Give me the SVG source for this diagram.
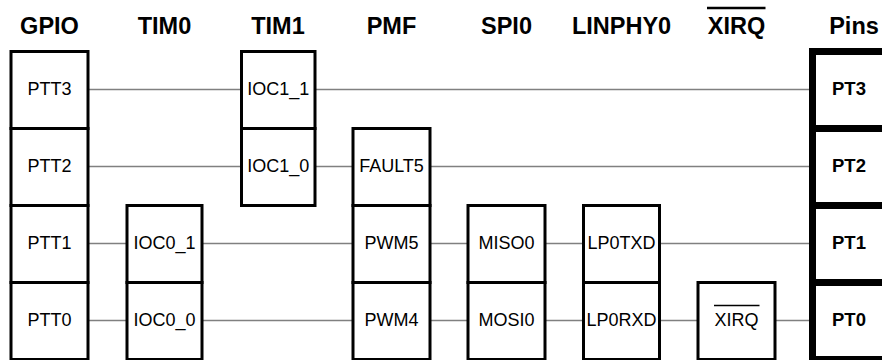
<svg xmlns="http://www.w3.org/2000/svg" width="882" height="360" viewBox="0 0 882 360">
<style>
.box{fill:#fff;stroke:#000;stroke-width:3}
.pin{fill:#fff;stroke:#000;stroke-width:7}
.hdr{font-family:"Liberation Sans",Arial,sans-serif;font-weight:bold;font-size:23.5px;text-anchor:middle;fill:#000}
.lbl{font-family:"Liberation Sans",Arial,sans-serif;font-size:18px;text-anchor:middle;fill:#000}
.plbl{font-family:"Liberation Sans",Arial,sans-serif;font-weight:bold;font-size:18.5px;text-anchor:middle;fill:#000}
.conn line{stroke:#808080;stroke-width:1.6}
.ovl{stroke:#000}
</style>
<g id="headers">
<text class="hdr" x="49.5" y="33.5">GPIO</text>
<text class="hdr" x="164.5" y="33.5">TIM0</text>
<text class="hdr" x="278" y="33.5">TIM1</text>
<text class="hdr" x="391.5" y="33.5">PMF</text>
<text class="hdr" x="506.5" y="33.5">SPI0</text>
<text class="hdr" x="621.5" y="33.5">LINPHY0</text>
<text class="hdr" x="736.5" y="33.5">XIRQ</text>
<line class="ovl" x1="707" y1="8" x2="765.5" y2="8" stroke-width="2.6"/>
<text class="hdr" x="854" y="33.5">Pins</text>
</g>
<g id="connectors" class="conn">
<line x1="88" y1="89.5" x2="241.5" y2="89.5"/>
<line x1="315" y1="89.5" x2="812" y2="89.5"/>
<line x1="88" y1="166.5" x2="241.5" y2="166.5"/>
<line x1="315" y1="166.5" x2="353" y2="166.5"/>
<line x1="430" y1="166.5" x2="812" y2="166.5"/>
<line x1="88" y1="243.5" x2="127" y2="243.5"/>
<line x1="202" y1="243.5" x2="353" y2="243.5"/>
<line x1="430" y1="243.5" x2="468" y2="243.5"/>
<line x1="545" y1="243.5" x2="583.5" y2="243.5"/>
<line x1="659.5" y1="243.5" x2="812" y2="243.5"/>
<line x1="88" y1="320.5" x2="127" y2="320.5"/>
<line x1="202" y1="320.5" x2="353" y2="320.5"/>
<line x1="430" y1="320.5" x2="468" y2="320.5"/>
<line x1="545" y1="320.5" x2="583.5" y2="320.5"/>
<line x1="659.5" y1="320.5" x2="698" y2="320.5"/>
<line x1="775" y1="320.5" x2="812" y2="320.5"/>
</g>
<g id="gpio">
<rect class="box" x="11" y="51.5" width="77" height="77"/><text class="lbl" x="49.5" y="95">PTT3</text>
<rect class="box" x="11" y="128.5" width="77" height="77"/><text class="lbl" x="49.5" y="172">PTT2</text>
<rect class="box" x="11" y="205.5" width="77" height="77"/><text class="lbl" x="49.5" y="249">PTT1</text>
<rect class="box" x="11" y="282.5" width="77" height="77"/><text class="lbl" x="49.5" y="326">PTT0</text>
</g>
<g id="tim0">
<rect class="box" x="127" y="205.5" width="75" height="77"/><text class="lbl" x="164.5" y="249">IOC0_1</text>
<rect class="box" x="127" y="282.5" width="75" height="77"/><text class="lbl" x="164.5" y="326">IOC0_0</text>
</g>
<g id="tim1">
<rect class="box" x="241.5" y="51.5" width="73.5" height="77"/><text class="lbl" x="278.2" y="95">IOC1_1</text>
<rect class="box" x="241.5" y="128.5" width="73.5" height="77"/><text class="lbl" x="278.2" y="172">IOC1_0</text>
</g>
<g id="pmf">
<rect class="box" x="353" y="128.5" width="77" height="77"/><text class="lbl" x="391.5" y="172">FAULT5</text>
<rect class="box" x="353" y="205.5" width="77" height="77"/><text class="lbl" x="391.5" y="249">PWM5</text>
<rect class="box" x="353" y="282.5" width="77" height="77"/><text class="lbl" x="391.5" y="326">PWM4</text>
</g>
<g id="spi0">
<rect class="box" x="468" y="205.5" width="77" height="77"/><text class="lbl" x="506.5" y="249">MISO0</text>
<rect class="box" x="468" y="282.5" width="77" height="77"/><text class="lbl" x="506.5" y="326">MOSI0</text>
</g>
<g id="linphy0">
<rect class="box" x="583.5" y="205.5" width="76" height="77"/><text class="lbl" x="621.5" y="249">LP0TXD</text>
<rect class="box" x="583.5" y="282.5" width="76" height="77"/><text class="lbl" x="621.5" y="326">LP0RXD</text>
</g>
<g id="xirq">
<rect class="box" x="698" y="282.5" width="77" height="77"/><text class="lbl" x="736.5" y="326">XIRQ</text>
<line class="ovl" x1="714" y1="305.5" x2="759.5" y2="305.5" stroke-width="1.5"/>
</g>
<g id="pins">
<rect class="pin" x="812.5" y="51.5" width="80" height="77"/><text class="plbl" x="849" y="95">PT3</text>
<rect class="pin" x="812.5" y="128.5" width="80" height="77"/><text class="plbl" x="849" y="172">PT2</text>
<rect class="pin" x="812.5" y="205.5" width="80" height="77"/><text class="plbl" x="849" y="249">PT1</text>
<rect class="pin" x="812.5" y="282.5" width="80" height="77"/><text class="plbl" x="849" y="326">PT0</text>
</g>
</svg>
